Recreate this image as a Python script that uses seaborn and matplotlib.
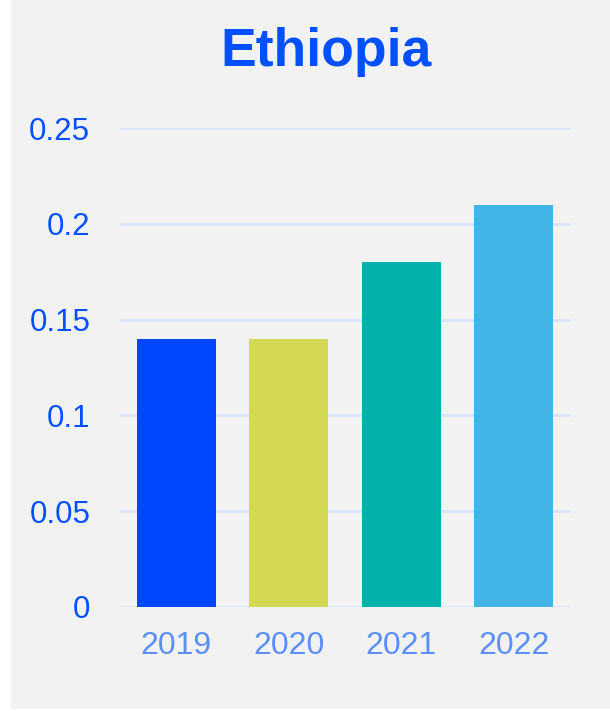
import matplotlib
matplotlib.use("Agg")
import matplotlib.pyplot as plt
import seaborn as sns
import pandas as pd
from matplotlib.patches import Rectangle

years = ["2019", "2020", "2021", "2022"]
values = [0.14, 0.14, 0.18, 0.21]
colors = ["#0047ff", "#d4d955", "#00b2aa", "#42b4e6"]
yticks = [0, 0.05, 0.1, 0.15, 0.2, 0.25]
ytick_labels = ["0", "0.05", "0.1", "0.15", "0.2", "0.25"]
title = "Ethiopia"

sns.set_theme(style="white")
plt.rcParams['font.family'] = ['Liberation Sans', 'DejaVu Sans']

fig = plt.figure(figsize=(6.1, 7.11), dpi=100, facecolor="white")
fig.patches.append(Rectangle((11 / 610, 2 / 711), 1 - 11 / 610, 1 - 2 / 711,
                             transform=fig.transFigure, facecolor="#f2f2f2",
                             edgecolor="none", zorder=-10))
ax = fig.add_axes([120 / 610, (711 - 607) / 711, 450 / 610, (607 - 128) / 711])
ax.set_facecolor("none")
ax.set_zorder(5)

df = pd.DataFrame({"year": years, "value": values})
sns.barplot(data=df, x="year", y="value", hue="year", palette=colors,
            legend=False, width=0.7, ax=ax, saturation=1, zorder=3,
            linewidth=0, edgecolor="none")

ax.set_ylim(0, 0.25)
ax.set_xlim(-0.5, 3.5)
ax.set_yticks(yticks)
ax.set_yticklabels(ytick_labels)
for y in yticks:
    ax.axhline(y, color="#d9e5ff", lw=2, zorder=1)
for s in ax.spines.values():
    s.set_visible(False)
ax.tick_params(axis="y", length=0, pad=21.5, labelsize=22.5, labelcolor="#0050ff")
ax.tick_params(axis="x", length=0, pad=17, labelsize=23, labelcolor="#5b8ff9")
ax.set_xlabel("")
ax.set_ylabel("")
fig.text(326 / 610, 1 - 52 / 711, title, ha="center", va="center",
         fontsize=38.5, fontweight="bold", color="#0050ff")

fig.savefig("out.png", dpi=100, facecolor="white")
